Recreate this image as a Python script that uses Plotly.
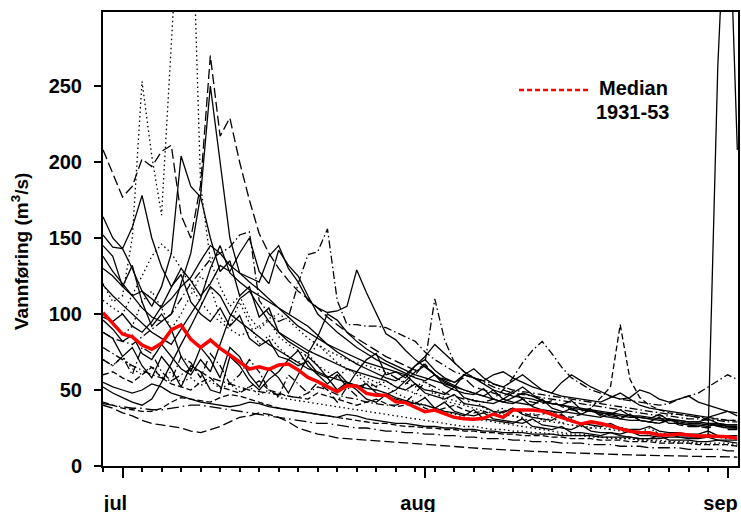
import pandas as pd
import plotly.graph_objects as go

# ---------------- data ----------------
START_DATE = "1931-06-29"
N_DAYS = 66
dates = pd.date_range(START_DATE, periods=N_DAYS, freq="D")

month_ticks = ["1931-07-01", "1931-08-01", "1931-09-01"]
month_labels = ["jul", "aug", "sep"]
y_ticks = [0, 50, 100, 150, 200, 250]

median_1931_53 = [
    100.9, 93.9, 86.8, 85.0, 79.6, 76.8, 80.7, 89.5, 92.8, 83.3,
    78.0, 82.9, 77.4, 73.0, 68.6, 63.8, 65.3, 63.6, 66.4, 67.1,
    63.2, 58.3, 55.5, 52.2, 48.9, 52.8, 52.6, 47.8, 46.5, 46.5,
    42.3, 41.7, 39.0, 35.7, 36.8, 34.2, 32.0, 31.1, 30.7, 31.4,
    34.2, 32.0, 36.8, 36.8, 36.8, 36.2, 34.2, 32.0, 29.8, 27.6,
    29.1, 28.0, 26.3, 24.8, 22.8, 22.1, 21.9, 20.4, 20.4, 21.0,
    20.4, 19.7, 19.7, 19.7, 19.3, 18.2]

s01 = [208, 192, 177, 184, 202, 197, 207, 211, 165, 150,
       185, 270, 217, 229, 200, 175, 153, 140, 130, 122,
       115, 110, 104, 98, 93, 88, 84, 80, 76, 72,
       69, 66, 63, 67, 60, 57, 55, 58, 52, 50,
       48, 46, 49, 44, 42, 41, 43, 39, 37, 36,
       38, 34, 33, 32, 34, 30, 29, 28, 30, 27,
       26, 26, 25, 27, 24, 24]
s02 = [120, 108, 112, 150, 253, 204, 165, 290, 390, 400,
       185, 135, 118, 105, 112, 98, 90, 96, 85, 80,
       76, 72, 80, 74, 68, 64, 61, 58, 55, 52,
       48, 45, 42, 40, 38, 36, 34, 32, 31, 30,
       29, 28, 27, 26, 25, 24, 23, 22, 21, 21,
       20, 19, 19, 18, 18, 17, 17, 16, 16, 15,
       15, 15, 14, 14, 14, 13]
s03 = [164, 150, 143, 157, 178, 150, 131, 118, 126, 108,
       100, 95, 104, 92, 99, 84, 79, 83, 72, 70,
       66, 69, 61, 58, 62, 55, 52, 54, 48, 46,
       44, 42, 41, 45, 38, 36, 35, 33, 37, 31,
       30, 29, 28, 31, 26, 25, 24, 26, 22, 22,
       21, 20, 22, 20, 19, 18, 18, 20, 17, 17,
       17, 16, 16, 17, 16, 15]
s04 = [152, 144, 143, 130, 115, 105, 118, 140, 204, 184,
       177, 150, 128, 135, 112, 118, 98, 104, 88, 84,
       80, 76, 73, 70, 67, 64, 62, 60, 58, 56,
       52, 50, 54, 48, 46, 44, 47, 41, 40, 39,
       36, 35, 38, 34, 32, 31, 30, 34, 29, 28,
       27, 26, 28, 25, 24, 24, 26, 23, 22, 22,
       21, 21, 23, 20, 20, 20]
s05 = [138, 128, 120, 112, 104, 98, 95, 100, 120, 140,
       178, 250, 200, 150, 127, 121, 116, 110, 104, 98,
       92, 88, 84, 80, 77, 74, 71, 68, 66, 64,
       62, 60, 66, 70, 63, 58, 55, 60, 64, 58,
       54, 52, 56, 60, 55, 50, 48, 46, 45, 44,
       43, 42, 45, 48, 44, 40, 38, 37, 36, 35,
       34, 33, 32, 34, 36, 33]
s06 = [88, 84, 82, 80, 85, 90, 95, 100, 110, 120,
       128, 136, 140, 144, 152, 154, 109, 100, 95, 98,
       120, 139, 141, 156, 109, 93, 93, 92, 92, 91,
       88, 85, 82, 75, 70, 66, 62, 60, 58, 56,
       54, 52, 50, 49, 48, 47, 46, 45, 44, 43,
       42, 41, 40, 39, 38, 37, 36, 35, 34, 34,
       33, 32, 32, 31, 30, 30]
s07 = [70, 66, 72, 60, 78, 74, 62, 56, 72, 68,
       58, 74, 66, 54, 60, 70, 62, 50, 46, 60,
       54, 48, 55, 50, 42, 52, 46, 56, 52, 62,
       58, 54, 60, 68, 110, 83, 68, 62, 58, 55,
       52, 50, 48, 47, 46, 45, 44, 43, 42, 41,
       40, 39, 38, 37, 36, 35, 34, 33, 33, 32,
       31, 31, 30, 30, 29, 29]
s08 = [60, 62, 58, 55, 60, 65, 58, 54, 52, 50,
       55, 58, 52, 50, 48, 52, 56, 50, 48, 46,
       45, 44, 48, 46, 44, 42, 40, 42, 44, 41,
       39, 40, 42, 38, 36, 38, 40, 37, 35, 36,
       34, 36, 38, 35, 33, 34, 36, 33, 32, 34,
       38, 45, 52, 93, 57, 45, 40, 37, 35, 34,
       33, 32, 31, 31, 30, 30]
s09 = [55, 52, 50, 48, 50, 54, 52, 48, 46, 44,
       42, 41, 40, 39, 40, 42, 41, 39, 38, 37,
       36, 35, 34, 33, 32, 34, 33, 31, 30, 29,
       28, 28, 27, 26, 26, 25, 25, 24, 24, 23,
       23, 22, 22, 22, 21, 21, 21, 20, 20, 20,
       20, 19, 19, 19, 19, 18, 18, 18, 19, 19,
       19, 19, 19, 263, 404, 208]
s10 = [40, 38, 35, 33, 30, 28, 27, 26, 25, 23,
       22, 24, 26, 29, 32, 33, 35, 34, 32, 29,
       25, 23, 21, 20, 18.5, 18, 17.5, 17, 16.5, 16,
       15.5, 15, 14.5, 14, 13.5, 13, 12.6, 12.2, 11.8, 11.4,
       11, 10.6, 10.3, 10, 9.7, 9.4, 9.1, 8.8, 8.5, 8.3,
       8.1, 7.9, 7.7, 7.5, 7.3, 7.1, 6.9, 6.7, 6.6, 6.5,
       6.4, 6.3, 6.2, 6.1, 6.0, 5.9]
s11 = [41, 40, 39, 38, 38, 37, 37, 38, 39, 40,
       40, 39, 38, 37, 36, 35, 34, 33, 32, 31,
       30, 29, 28, 28, 27, 26, 25, 25, 24, 23,
       23, 22, 22, 21, 21, 20, 20, 19, 19, 18,
       18, 18, 17, 17, 16, 16, 16, 15, 15, 15,
       14, 14, 14, 13, 13, 13, 12, 12, 12, 12,
       11, 11, 11, 11, 10, 10]
s12 = [42, 40, 38, 37, 36, 36, 38, 42, 45, 44,
       43, 42, 45, 47, 46, 44, 42, 40, 38, 37,
       36, 35, 34, 33, 32, 31, 30, 29, 28, 28,
       27, 26, 26, 25, 25, 24, 24, 23, 23, 22,
       22, 21, 21, 20, 20, 20, 19, 19, 18, 18,
       18, 17, 17, 17, 16, 16, 16, 15, 15, 15,
       15, 14, 14, 14, 14, 13]
s13 = [52, 48, 45, 42, 40, 44, 55, 68, 80, 92,
       105, 118, 112, 100, 95, 90, 85, 80, 76, 72,
       68, 64, 62, 59, 57, 55, 53, 51, 50, 48,
       45, 43, 41, 40, 38, 42, 36, 34, 33, 35,
       31, 30, 29, 28, 31, 27, 26, 25, 24, 27,
       23, 22, 22, 21, 23, 20, 20, 19, 21, 19,
       18, 18, 19, 17, 17, 17]
s14 = [96, 90, 82, 86, 74, 70, 80, 72, 64, 60,
       70, 62, 80, 98, 110, 115, 105, 95, 88, 82,
       78, 74, 85, 100, 96, 88, 82, 77, 73, 69,
       66, 63, 60, 58, 56, 54, 52, 60, 58, 54,
       50, 48, 46, 45, 44, 42, 41, 40, 39, 38,
       37, 36, 35, 34, 33, 33, 32, 31, 31, 30,
       29, 29, 28, 28, 27, 27]
s15 = [130, 125, 118, 112, 115, 110, 104, 110, 118, 124,
       135, 145, 140, 132, 127, 124, 121, 138, 145, 130,
       121, 109, 104, 101, 102, 105, 129, 114, 100, 87,
       83, 76, 70, 65, 60, 56, 53, 50, 48, 46,
       44, 42, 45, 48, 46, 43, 41, 40, 38, 37,
       36, 35, 34, 33, 32, 32, 31, 30, 30, 29,
       28, 28, 27, 27, 26, 26]
s16 = [109, 104, 100, 112, 125, 138, 146, 140, 130, 118,
       108, 100, 95, 90, 86, 88, 92, 97, 100, 96,
       90, 84, 80, 76, 73, 70, 68, 66, 64, 62,
       58, 55, 52, 56, 48, 45, 43, 41, 44, 38,
       36, 34, 33, 32, 35, 30, 29, 28, 31, 27,
       25, 25, 24, 26, 22, 22, 21, 23, 20, 20,
       20, 19, 21, 19, 18, 18]
s17 = [119, 112, 106, 100, 94, 88, 84, 80, 90, 100,
       110, 130, 145, 127, 121, 116, 112, 108, 104, 100,
       96, 92, 86, 80, 75, 71, 67, 64, 61, 58,
       56, 60, 54, 50, 49, 47, 52, 45, 43, 42,
       41, 44, 48, 52, 47, 43, 41, 40, 43, 37,
       36, 35, 34, 37, 33, 32, 31, 34, 30, 30,
       29, 29, 31, 28, 27, 27]
s18 = [70, 66, 72, 64, 60, 66, 58, 62, 55, 58,
       53, 56, 51, 54, 49, 52, 47, 50, 45, 44,
       43, 42, 41, 40, 39, 38, 37, 36, 35, 34,
       33, 32, 31, 30, 29, 28, 27, 26, 26, 25,
       24, 24, 23, 23, 22, 22, 21, 21, 20, 20,
       19, 19, 18, 18, 18, 17, 17, 17, 16, 16,
       16, 15, 15, 15, 15, 14]
s19 = [88, 84, 72, 78, 66, 58, 72, 64, 52, 66,
       62, 50, 48, 72, 66, 56, 50, 57, 62, 70,
       76, 66, 60, 54, 60, 52, 62, 70, 74, 60,
       62, 58, 66, 72, 80, 74, 68, 62, 58, 56,
       60, 62, 58, 55, 52, 50, 48, 55, 60, 56,
       52, 49, 46, 44, 45, 50, 48, 44, 42, 44,
       46, 42, 40, 38, 36, 35]
s20 = [78, 74, 70, 66, 63, 60, 58, 56, 60, 64,
       62, 58, 56, 54, 52, 50, 49, 48, 47, 46,
       45, 48, 52, 50, 47, 45, 44, 42, 41, 40,
       40, 42, 48, 55, 52, 48, 46, 44, 43, 42,
       44, 50, 58, 68, 76, 82, 74, 65, 58, 54,
       50, 48, 46, 44, 43, 42, 41, 40, 41, 44,
       46, 48, 52, 56, 60, 57]
s21 = [145, 138, 118, 132, 108, 92, 100, 90, 72, 62,
       78, 70, 58, 78, 72, 60, 52, 64, 58, 48,
       60, 72, 66, 58, 50, 55, 50, 44, 42, 47,
       50, 56, 62, 66, 60, 55, 52, 50, 48, 46,
       50, 44, 42, 41, 40, 44, 38, 36, 35, 34,
       37, 33, 32, 31, 34, 30, 29, 28, 31, 28,
       27, 26, 28, 26, 25, 25]
s22 = [100, 94, 86, 92, 108, 115, 104, 90, 100, 112,
       125, 118, 98, 92, 108, 94, 80, 86, 78, 72,
       68, 74, 66, 62, 58, 64, 60, 54, 52, 56,
       52, 50, 48, 45, 49, 43, 41, 40, 38, 36,
       35, 38, 33, 31, 30, 29, 32, 28, 27, 26,
       25, 28, 24, 23, 23, 22, 25, 21, 21, 20,
       20, 19, 21, 19, 19, 18]
s23 = [98, 95, 100, 92, 88, 95, 105, 118, 130, 122,
       112, 120, 132, 128, 140, 150, 128, 120, 142, 132,
       125, 112, 100, 94, 88, 83, 78, 74, 70, 67,
       64, 61, 58, 56, 60, 53, 50, 48, 47, 51,
       44, 42, 41, 44, 39, 37, 36, 35, 38, 34,
       33, 32, 35, 31, 30, 30, 29, 32, 28, 28,
       27, 27, 26, 28, 26, 25]

years = [s01, s02, s03, s04, s05, s06, s07, s08, s09, s10, s11, s12,
         s13, s14, s15, s16, s17, s18, s19, s20, s21, s22, s23]

# ---------------- styles ----------------
SOLID = "solid"
DOT = "1.5px,3px"
DASH = "6px,3px"
LONGDASH = "10px,4px"
DASHDOT = "8px,3px,1.5px,3px"
LONGDASHDOT = "12px,4px,1.5px,4px"
year_dash = [LONGDASH, DOT, SOLID, SOLID, SOLID, DASHDOT, DASHDOT, DASH,
             SOLID, LONGDASH, LONGDASHDOT, DASH, SOLID, SOLID, SOLID, DOT,
             SOLID, DOT, SOLID, DASHDOT, SOLID, DOT, SOLID]

for s in years:
    assert len(s) == N_DAYS, len(s)
assert len(median_1931_53) == N_DAYS

FONT = "Liberation Sans, Arial, Helvetica, sans-serif"

fig = go.Figure()
for vals, dash in zip(years, year_dash):
    fig.add_trace(go.Scatter(x=dates, y=vals, mode="lines",
                             line=dict(color="black", width=1.3, dash=dash),
                             showlegend=False, hoverinfo="skip"))
fig.add_trace(go.Scatter(x=dates, y=median_1931_53, mode="lines",
                         line=dict(color="#ff0000", width=3.5),
                         showlegend=False, hoverinfo="skip"))

# plot-area geometry (px)
L, R, T, B = 103, 3, 12, 46
W, H = 741, 512
pw, ph = W - L - R, H - T - B


def px_x(x):
    return (x - L) / pw


def px_y(y):
    return (H - B - y) / ph


fig.update_layout(
    width=W, height=H,
    margin=dict(l=L, r=R, t=T, b=B, autoexpand=False),
    paper_bgcolor="white", plot_bgcolor="white",
    font=dict(family=FONT, color="black"),
    xaxis=dict(
        type="date", automargin=False,
        range=["1931-06-29 00:00", "1931-09-02 01:40"],
        tickvals=month_ticks, ticktext=month_labels,
        ticks="outside", ticklen=10, tickwidth=2, tickcolor="black",
        showline=True, linewidth=2, linecolor="black", mirror=True,
        showgrid=False, zeroline=False,
        tickfont=dict(family=FONT, size=20, color="black", weight="bold"),
        ticklabelshift=-7, ticklabelstandoff=8,
        minor=dict(tickvals=list(dates[::2]), ticks="outside", ticklen=4,
                   tickwidth=1.5, tickcolor="black", showgrid=False),
    ),
    yaxis=dict(
        range=[0, 298.7], automargin=False,
        tickvals=y_ticks,
        ticks="outside", ticklen=7, tickwidth=2, tickcolor="black",
        showline=True, linewidth=2, linecolor="black", mirror=True,
        showgrid=False, zeroline=False,
        tickfont=dict(family=FONT, size=20, color="black", weight="bold"),
        ticklabelstandoff=8,
    ),
)

fig.add_annotation(text="Vannføring (m<sup>3</sup>/s)", textangle=-90,
                   xref="paper", yref="paper", x=px_x(20), y=px_y(251),
                   xanchor="center", yanchor="middle", showarrow=False,
                   font=dict(family=FONT, size=19, color="black", weight="bold"))

# legend sample for the median
fig.add_shape(type="line", xref="paper", yref="paper",
              x0=px_x(519), x1=px_x(588), y0=px_y(90), y1=px_y(90),
              line=dict(color="#ff0000", width=2.5, dash="5px,3px"))
fig.add_annotation(text="Median", xref="paper", yref="paper",
                   x=px_x(670), y=px_y(88), xanchor="right", yanchor="middle",
                   showarrow=False,
                   font=dict(family=FONT, size=20, color="black", weight="bold"))
fig.add_annotation(text="1931-53", xref="paper", yref="paper",
                   x=px_x(671), y=px_y(112), xanchor="right", yanchor="middle",
                   showarrow=False,
                   font=dict(family=FONT, size=20, color="black", weight="bold"))

fig.write_html("out.html",
               config={"displayModeBar": False},
               post_script=["document.body.style.margin='0px';"
                            "document.body.style.overflow='hidden';"])
